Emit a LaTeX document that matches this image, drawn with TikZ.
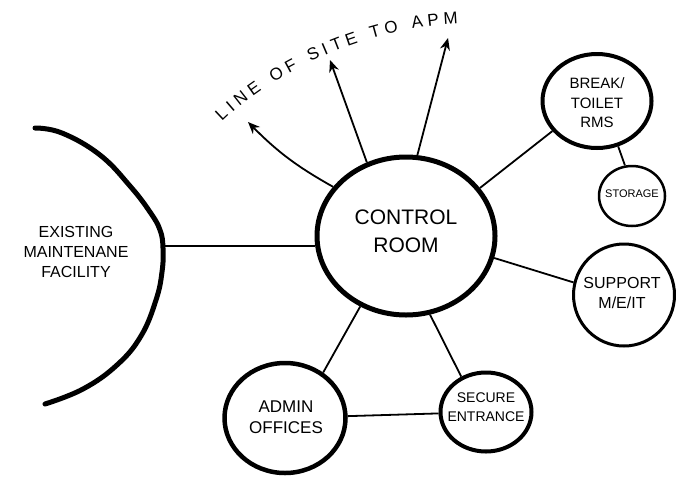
\documentclass[tikz,border=0pt]{standalone}
\usepackage{fontspec}
\setmainfont{Liberation Sans}
\usetikzlibrary{shapes.geometric, arrows.meta, positioning, decorations.text}
\newcommand{\sightfont}{\fontsize{17}{17}\selectfont}
\tikzset{
  roombox/.style={ellipse,draw=black,inner sep=0pt,line width=4pt},
  roomtext/.style={align=center,inner sep=0pt,font=\fontsize{16}{20}\selectfont},
  link/.style={draw=black,line width=1.8pt},
  sightarr/.style={-{Stealth[length=12pt,width=10pt]},line width=1.8pt},
  wall/.style={line width=5pt,line cap=round}
}

\begin{document}
\begin{tikzpicture}[x=1pt,y=-1pt]
  \fill[white] (0,0) rectangle (676,482);
  \useasboundingbox (0,0) rectangle (676,482);

  % rooms
  \node[roombox,line width=5pt,minimum width=178pt,minimum height=158pt] (ctrl) at (406,236) {};
  \node[roombox,minimum width=109pt,minimum height=94pt] (brk) at (597,101) {};
  \node[roombox,line width=2.5pt,minimum width=66pt,minimum height=60pt] (stor) at (632,196) {};
  \node[roombox,line width=3pt,minimum width=101pt,minimum height=102pt] (supp) at (624,295) {};
  \node[roombox,line width=4.5pt,minimum width=121pt,minimum height=110pt] (adm) at (285,418) {};
  \node[roombox,minimum width=91pt,minimum height=79pt] (sec) at (486,412) {};

  \node[roomtext,font=\fontsize{21}{28}\selectfont] (ctrl-t) at (406,231) {CONTROL\\ROOM};
  \node[roomtext,font=\fontsize{15}{19.5}\selectfont] (brk-t) at (597,103) {BREAK/\\TOILET\\RMS};
  \node[roomtext,font=\fontsize{11}{13}\selectfont] (stor-t) at (632,194) {STORAGE};
  \node[roomtext] (supp-t) at (622,293) {SUPPORT\\M/E/IT};
  \node[roomtext,font=\fontsize{17}{21}\selectfont] (adm-t) at (286,417) {ADMIN\\OFFICES};
  \node[roomtext,font=\fontsize{14}{19}\selectfont] (sec-t) at (486,407) {SECURE\\ENTRANCE};

  % existing facility
  \coordinate (fac) at (163,246);
  \draw[wall] plot[smooth,tension=0.7] coordinates {(35,128) (62,133) (100,155) (130,186)
    (150,212) (160,230) (163,248) (162,272) (156,300) (141,336) (117,365) (83,389) (45,404)};
  \node[roomtext] (fac-t) at (76,252) {EXISTING\\MAINTENANE\\FACILITY};

  % connectors
  \draw[link] (fac) -- (fac -| ctrl.west);
  \draw[link] (ctrl.33) -- (brk.214);
  \draw[link] (brk.295) -- (stor.103);
  \draw[link] (ctrl.346) -- (supp.166);
  \draw[link] (ctrl.237) -- (adm.50);
  \draw[link] (ctrl.287) -- (sec.125);
  \draw[link] (adm) -- (sec);

  % line of site
  \coordinate (sight1) at (248,122);
  \coordinate (sight2) at (330,60);
  \coordinate (sight3) at (448,38);
  \draw[sightarr] (ctrl.146) to[bend left=8] (sight1);
  \draw[sightarr] (ctrl.118) -- (sight2);
  \draw[sightarr] (ctrl.82) -- (sight3);
  \path[decorate,decoration={text along path,text align=fit to path,
      text={|\sightfont|LINE OF SITE TO APM}}]
    (222,122) .. controls (270,75) and (360,28) .. (458,24);
\end{tikzpicture}
\end{document}
